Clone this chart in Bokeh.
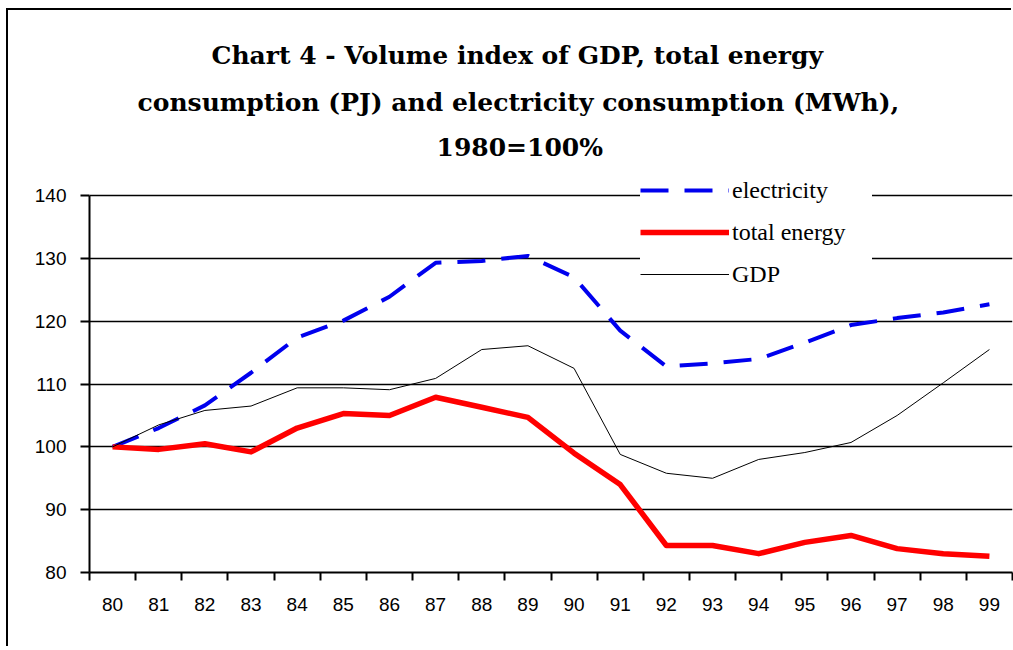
from bokeh.plotting import figure
from bokeh.models import Range1d, FixedTicker, Legend, LegendItem, Title
from bokeh.embed import file_html
from bokeh.resources import INLINE

years = ["80", "81", "82", "83", "84", "85", "86", "87", "88", "89",
         "90", "91", "92", "93", "94", "95", "96", "97", "98", "99"]
electricity = [100, 103.0, 106.6, 111.8, 117.4, 120.1, 123.9, 129.3, 129.6, 130.4,
               127.0, 118.5, 112.8, 113.3, 114.0, 116.6, 119.4, 120.5, 121.4, 122.7]
total_energy = [100, 99.6, 100.5, 99.2, 103.0, 105.3, 105.0, 107.9, 106.3, 104.7,
                99.0, 94.0, 84.3, 84.3, 83.0, 84.8, 85.9, 83.8, 83.0, 82.6]
gdp = [100, 103.5, 105.8, 106.5, 109.4, 109.4, 109.1, 110.9, 115.5, 116.1,
       112.5, 98.8, 95.8, 95.0, 98.0, 99.1, 100.7, 105.0, 110.2, 115.5]
y_ticks = [80, 90, 100, 110, 120, 130, 140]
title_lines = ["Chart 4 - Volume index of GDP, total energy",
               "consumption (PJ) and electricity consumption (MWh),",
               "1980=100%"]

xs = list(range(len(years)))

p = figure(width=1005, height=638, output_backend="svg", toolbar_location=None,
           x_range=Range1d(-0.5, len(years) - 0.5), y_range=Range1d(80, 144),
           min_border_left=81, min_border_right=1, min_border_top=160, min_border_bottom=76)
p.styles = {"margin-left": "8px", "margin-top": "10px",
            "box-shadow": "-2px -2px 0px 0px black"}
p.outline_line_color = None
p.background_fill_color = "white"
p.border_fill_color = "white"
p.title.text = ""

# titles (first added is closest to the plot)
t_standoffs = [18, 9, 24]
t_offsets = [347, 48, 122]
for line, so, off in zip(reversed(title_lines), t_standoffs, t_offsets):
    t = Title(text=line, align="left", offset=off, text_font="DejaVu Serif",
              text_font_style="bold", text_font_size="25px", text_color="black",
              standoff=so)
    p.add_layout(t, "above")

# axes
xa = p.xaxis[0]
xa.ticker = FixedTicker(ticks=xs, minor_ticks=[x - 0.5 for x in xs] + [len(xs) - 0.5])
xa.major_label_overrides = {i: y for i, y in enumerate(years)}
xa.major_tick_out = 0
xa.major_tick_in = 0
xa.minor_tick_out = 8
xa.minor_tick_in = 0
xa.minor_tick_line_color = "black"
xa.minor_tick_line_width = 2
xa.axis_line_width = 2
xa.axis_line_color = "black"
xa.major_label_standoff = 17
xa.major_label_text_font = "Liberation Sans"
xa.major_label_text_font_size = "19px"
xa.major_label_text_color = "black"

ya = p.yaxis[0]
ya.ticker = FixedTicker(ticks=y_ticks)
ya.bounds = (80, 140)
ya.major_tick_out = 9
ya.major_tick_in = 0
ya.major_tick_line_width = 2
ya.major_tick_line_color = "black"
ya.minor_tick_line_color = None
ya.axis_line_width = 2
ya.axis_line_color = "black"
ya.major_label_standoff = 14
ya.major_label_text_font = "Liberation Sans"
ya.major_label_text_font_size = "19px"
ya.major_label_text_color = "black"

p.xgrid.visible = False
p.ygrid.ticker = FixedTicker(ticks=y_ticks)
p.ygrid.grid_line_color = "black"
p.ygrid.grid_line_width = 1.6

r_el = p.line(xs, electricity, line_color="#0000ee", line_width=4, line_dash="28 16")
r_te = p.line(xs, total_energy, line_color="#ff0000", line_width=5.5, line_join="round")
r_gdp = p.line(xs, gdp, line_color="black", line_width=1)

legend = Legend(items=[LegendItem(label="electricity", renderers=[r_el]),
                       LegendItem(label="total energy", renderers=[r_te]),
                       LegendItem(label="GDP", renderers=[r_gdp])],
                location=(551, 277), orientation="vertical",
                glyph_width=89, glyph_height=42, spacing=0, padding=8, margin=0,
                label_standoff=3, label_width=140, label_height=42,
                label_text_font="Liberation Serif", label_text_font_size="24px",
                label_text_color="black",
                background_fill_color="white", background_fill_alpha=1.0,
                border_line_color=None)
p.add_layout(legend, "center")

open("out.html", "w").write(file_html(p, INLINE))
